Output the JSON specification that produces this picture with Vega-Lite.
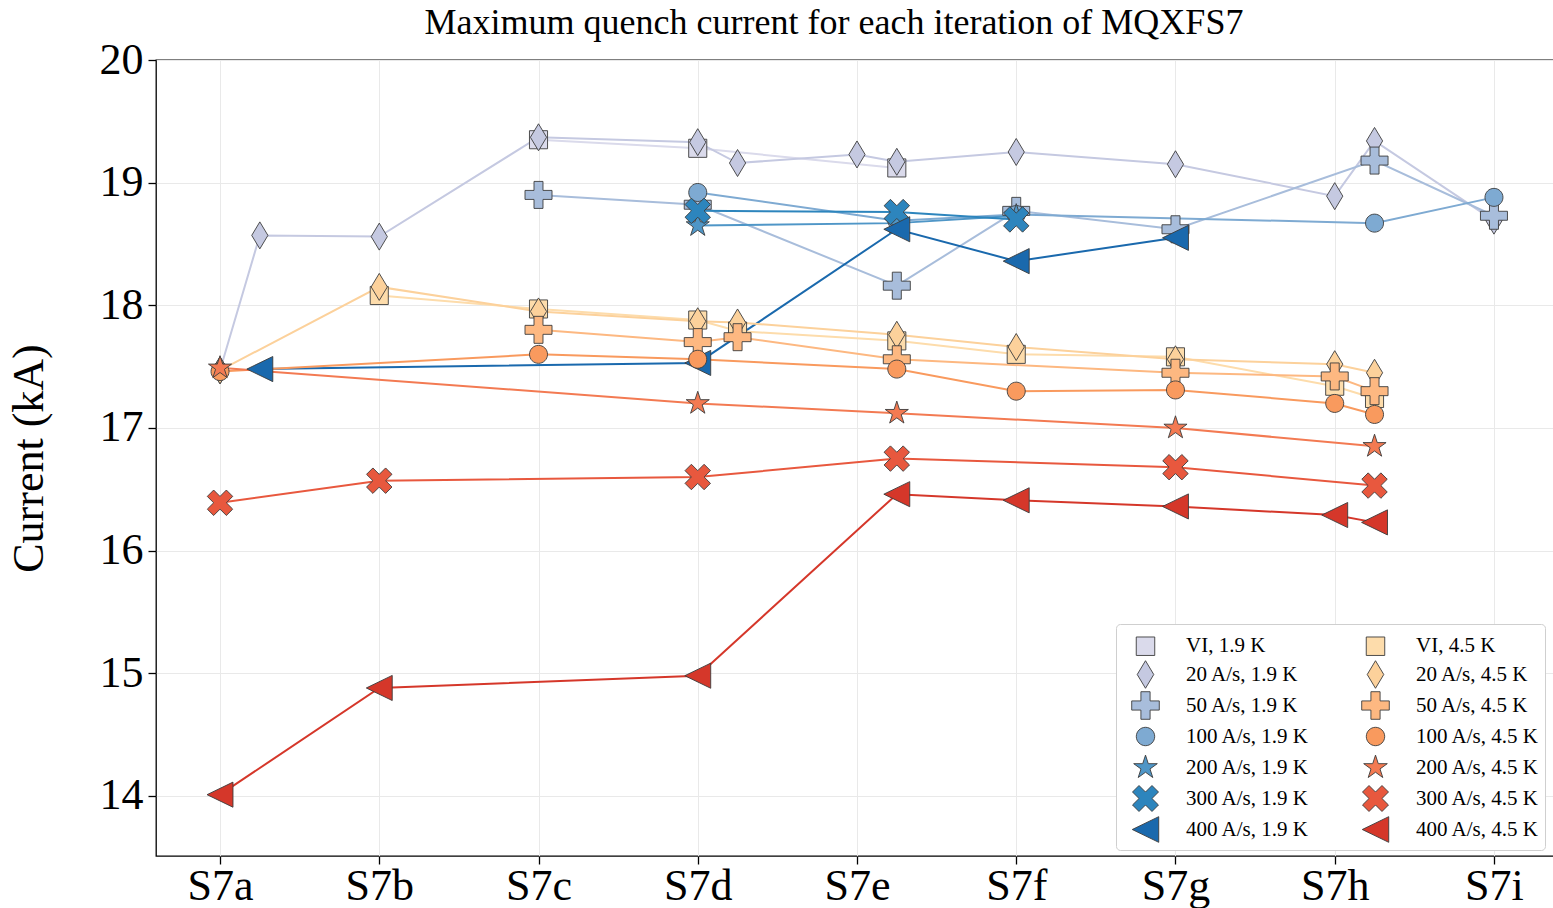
{
  "$schema": "https://vega.github.io/schema/vega-lite/v6.json",
  "width": 1398,
  "height": 796,
  "autosize": "none",
  "padding": {"left": 156, "top": 60, "right": 0, "bottom": 52},
  "background": "white",
  "title": {
    "text": "Maximum quench current for each iteration of MQXFS7",
    "font": "Liberation Serif",
    "fontSize": 36,
    "fontWeight": "normal",
    "color": "black",
    "anchor": "middle",
    "dx": -21,
    "offset": -4
  },
  "config": {
    "view": {"stroke": "black", "strokeWidth": 1.3},
    "axis": {
      "labelFont": "Liberation Serif",
      "labelFontSize": 44,
      "labelColor": "black",
      "titleFont": "Liberation Serif",
      "titleFontSize": 44,
      "titleFontWeight": "normal",
      "titleColor": "black",
      "tickColor": "black",
      "tickSize": 8,
      "tickWidth": 1.3,
      "domain": false,
      "grid": true,
      "gridColor": "#e9e9e9",
      "gridWidth": 1,
      "labelFlush": false,
      "labelOverlap": false,
      "labelPadding": 5
    },
    "legend": {
      "symbolSize": 760,
      "symbolOffset": 10,
      "symbolStrokeColor": "#3c3c3c",
      "symbolStrokeWidth": 0.9,
      "symbolOpacity": 1,
      "labelFont": "Liberation Serif",
      "labelFontSize": 21,
      "labelColor": "black",
      "labelOffset": 26,
      "labelLimit": 400,
      "rowPadding": -2.5,
      "columnPadding": 41,
      "gridAlign": "all",
      "padding": 5,
      "fillColor": "white",
      "strokeColor": "#cfcfcf",
      "cornerRadius": 4
    }
  },
  "data": {
    "values": [
      {"series": "VI, 1.9 K", "pos": 2, "current": 19.35},
      {"series": "VI, 1.9 K", "pos": 3, "current": 19.28},
      {"series": "VI, 1.9 K", "pos": 4.25, "current": 19.12},

      {"series": "20 A/s, 1.9 K", "pos": 0, "current": 17.47},
      {"series": "20 A/s, 1.9 K", "pos": 0.25, "current": 18.57},
      {"series": "20 A/s, 1.9 K", "pos": 1, "current": 18.56},
      {"series": "20 A/s, 1.9 K", "pos": 2, "current": 19.37},
      {"series": "20 A/s, 1.9 K", "pos": 3, "current": 19.33},
      {"series": "20 A/s, 1.9 K", "pos": 3.25, "current": 19.16},
      {"series": "20 A/s, 1.9 K", "pos": 4, "current": 19.23},
      {"series": "20 A/s, 1.9 K", "pos": 4.25, "current": 19.17},
      {"series": "20 A/s, 1.9 K", "pos": 5, "current": 19.25},
      {"series": "20 A/s, 1.9 K", "pos": 6, "current": 19.15},
      {"series": "20 A/s, 1.9 K", "pos": 7, "current": 18.89},
      {"series": "20 A/s, 1.9 K", "pos": 7.25, "current": 19.34},
      {"series": "20 A/s, 1.9 K", "pos": 8, "current": 18.69},

      {"series": "50 A/s, 1.9 K", "pos": 2, "current": 18.9},
      {"series": "50 A/s, 1.9 K", "pos": 3, "current": 18.82},
      {"series": "50 A/s, 1.9 K", "pos": 4.25, "current": 18.16},
      {"series": "50 A/s, 1.9 K", "pos": 5, "current": 18.77},
      {"series": "50 A/s, 1.9 K", "pos": 6, "current": 18.62},
      {"series": "50 A/s, 1.9 K", "pos": 7.25, "current": 19.18},
      {"series": "50 A/s, 1.9 K", "pos": 8, "current": 18.73},

      {"series": "100 A/s, 1.9 K", "pos": 3, "current": 18.92},
      {"series": "100 A/s, 1.9 K", "pos": 4.25, "current": 18.69},
      {"series": "100 A/s, 1.9 K", "pos": 5, "current": 18.74},
      {"series": "100 A/s, 1.9 K", "pos": 7.25, "current": 18.67},
      {"series": "100 A/s, 1.9 K", "pos": 8, "current": 18.88},

      {"series": "200 A/s, 1.9 K", "pos": 3, "current": 18.65},
      {"series": "200 A/s, 1.9 K", "pos": 4.25, "current": 18.67},
      {"series": "200 A/s, 1.9 K", "pos": 5, "current": 18.73},

      {"series": "300 A/s, 1.9 K", "pos": 3, "current": 18.77},
      {"series": "300 A/s, 1.9 K", "pos": 4.25, "current": 18.76},
      {"series": "300 A/s, 1.9 K", "pos": 5, "current": 18.7},

      {"series": "400 A/s, 1.9 K", "pos": 0.25, "current": 17.48},
      {"series": "400 A/s, 1.9 K", "pos": 3, "current": 17.53},
      {"series": "400 A/s, 1.9 K", "pos": 4.25, "current": 18.62},
      {"series": "400 A/s, 1.9 K", "pos": 5, "current": 18.36},
      {"series": "400 A/s, 1.9 K", "pos": 6, "current": 18.55},

      {"series": "VI, 4.5 K", "pos": 1, "current": 18.08},
      {"series": "VI, 4.5 K", "pos": 2, "current": 17.97},
      {"series": "VI, 4.5 K", "pos": 3, "current": 17.88},
      {"series": "VI, 4.5 K", "pos": 3.25, "current": 17.79},
      {"series": "VI, 4.5 K", "pos": 4.25, "current": 17.71},
      {"series": "VI, 4.5 K", "pos": 5, "current": 17.6},
      {"series": "VI, 4.5 K", "pos": 6, "current": 17.58},
      {"series": "VI, 4.5 K", "pos": 7, "current": 17.34},
      {"series": "VI, 4.5 K", "pos": 7.25, "current": 17.24},

      {"series": "20 A/s, 4.5 K", "pos": 0, "current": 17.47},
      {"series": "20 A/s, 4.5 K", "pos": 1, "current": 18.15},
      {"series": "20 A/s, 4.5 K", "pos": 2, "current": 17.95},
      {"series": "20 A/s, 4.5 K", "pos": 3, "current": 17.87},
      {"series": "20 A/s, 4.5 K", "pos": 3.25, "current": 17.86},
      {"series": "20 A/s, 4.5 K", "pos": 4.25, "current": 17.76},
      {"series": "20 A/s, 4.5 K", "pos": 5, "current": 17.66},
      {"series": "20 A/s, 4.5 K", "pos": 6, "current": 17.56},
      {"series": "20 A/s, 4.5 K", "pos": 7, "current": 17.52},
      {"series": "20 A/s, 4.5 K", "pos": 7.25, "current": 17.45},

      {"series": "50 A/s, 4.5 K", "pos": 2, "current": 17.8},
      {"series": "50 A/s, 4.5 K", "pos": 3, "current": 17.7},
      {"series": "50 A/s, 4.5 K", "pos": 3.25, "current": 17.74},
      {"series": "50 A/s, 4.5 K", "pos": 4.25, "current": 17.56},
      {"series": "50 A/s, 4.5 K", "pos": 6, "current": 17.45},
      {"series": "50 A/s, 4.5 K", "pos": 7, "current": 17.42},
      {"series": "50 A/s, 4.5 K", "pos": 7.25, "current": 17.3},

      {"series": "100 A/s, 4.5 K", "pos": 0, "current": 17.46},
      {"series": "100 A/s, 4.5 K", "pos": 2, "current": 17.6},
      {"series": "100 A/s, 4.5 K", "pos": 3, "current": 17.56},
      {"series": "100 A/s, 4.5 K", "pos": 4.25, "current": 17.48},
      {"series": "100 A/s, 4.5 K", "pos": 5, "current": 17.3},
      {"series": "100 A/s, 4.5 K", "pos": 6, "current": 17.31},
      {"series": "100 A/s, 4.5 K", "pos": 7, "current": 17.2},
      {"series": "100 A/s, 4.5 K", "pos": 7.25, "current": 17.11},

      {"series": "200 A/s, 4.5 K", "pos": 0, "current": 17.49},
      {"series": "200 A/s, 4.5 K", "pos": 3, "current": 17.2},
      {"series": "200 A/s, 4.5 K", "pos": 4.25, "current": 17.12},
      {"series": "200 A/s, 4.5 K", "pos": 6, "current": 17.0},
      {"series": "200 A/s, 4.5 K", "pos": 7.25, "current": 16.85},

      {"series": "300 A/s, 4.5 K", "pos": 0, "current": 16.39},
      {"series": "300 A/s, 4.5 K", "pos": 1, "current": 16.57},
      {"series": "300 A/s, 4.5 K", "pos": 3, "current": 16.6},
      {"series": "300 A/s, 4.5 K", "pos": 4.25, "current": 16.75},
      {"series": "300 A/s, 4.5 K", "pos": 6, "current": 16.68},
      {"series": "300 A/s, 4.5 K", "pos": 7.25, "current": 16.53},

      {"series": "400 A/s, 4.5 K", "pos": 0, "current": 14.01},
      {"series": "400 A/s, 4.5 K", "pos": 1, "current": 14.88},
      {"series": "400 A/s, 4.5 K", "pos": 3, "current": 14.98},
      {"series": "400 A/s, 4.5 K", "pos": 4.25, "current": 16.46},
      {"series": "400 A/s, 4.5 K", "pos": 5, "current": 16.41},
      {"series": "400 A/s, 4.5 K", "pos": 6, "current": 16.36},
      {"series": "400 A/s, 4.5 K", "pos": 7, "current": 16.29},
      {"series": "400 A/s, 4.5 K", "pos": 7.25, "current": 16.23}
    ]
  },
  "encoding": {
    "x": {
      "field": "pos",
      "type": "quantitative",
      "scale": {"domain": [-0.402, 8.377], "nice": false, "zero": false},
      "axis": {
        "title": null,
        "values": [0, 1, 2, 3, 4, 5, 6, 7, 8],
        "labelPadding": 0,
        "labelExpr": "['S7a','S7b','S7c','S7d','S7e','S7f','S7g','S7h','S7i'][round(datum.value)]"
      }
    },
    "y": {
      "field": "current",
      "type": "quantitative",
      "scale": {"domain": [13.51, 20], "nice": false, "zero": false},
      "axis": {
        "title": "Current (kA)",
        "values": [14, 15, 16, 17, 18, 19, 20],
        "titlePadding": 48
      }
    }
  },
  "layer": [
    {
      "mark": {"type": "line", "strokeWidth": 2},
      "encoding": {
        "color": {
          "field": "series",
          "type": "nominal",
          "legend": null,
          "scale": {
            "domain": ["VI, 1.9 K", "20 A/s, 1.9 K", "50 A/s, 1.9 K", "100 A/s, 1.9 K", "200 A/s, 1.9 K", "300 A/s, 1.9 K", "400 A/s, 1.9 K", "VI, 4.5 K", "20 A/s, 4.5 K", "50 A/s, 4.5 K", "100 A/s, 4.5 K", "200 A/s, 4.5 K", "300 A/s, 4.5 K", "400 A/s, 4.5 K"],
            "range": ["#dadaeb", "#c5c9e1", "#a8bddb", "#7eaad2", "#4f96c7", "#2d85bd", "#1a69ad", "#fddcab", "#fcd19b", "#fdb881", "#f99a5e", "#f37a52", "#e8583e", "#d5372a"]
          }
        },
        "detail": {"field": "series"}
      }
    },
    {
      "mark": {"type": "point", "filled": true, "opacity": 1, "size": 729, "stroke": "#3c3c3c", "strokeWidth": 0.9},
      "encoding": {
        "color": {
          "field": "series",
          "type": "nominal",
          "legend": {
            "title": null,
            "orient": "none",
            "legendX": 960,
            "legendY": 564,
            "columns": 2,
            "encode": {"symbols": {"update": {"stroke": {"value": "#3c3c3c"}, "strokeWidth": {"value": 0.9}}}}
          }
        },
        "shape": {
          "field": "series",
          "type": "nominal",
          "legend": {"title": null, "orient": "none", "legendX": 960, "legendY": 564, "columns": 2},
          "scale": {
            "domain": ["VI, 1.9 K", "20 A/s, 1.9 K", "50 A/s, 1.9 K", "100 A/s, 1.9 K", "200 A/s, 1.9 K", "300 A/s, 1.9 K", "400 A/s, 1.9 K", "VI, 4.5 K", "20 A/s, 4.5 K", "50 A/s, 4.5 K", "100 A/s, 4.5 K", "200 A/s, 4.5 K", "300 A/s, 4.5 K", "400 A/s, 4.5 K"],
            "range": [
              "M-0.67,-0.67H0.67V0.67H-0.67Z",
              "M0,-1L0.6,0L0,1L-0.6,0Z",
              "M-0.333,-1H0.333V-0.333H1V0.333H0.333V1H-0.333V0.333H-1V-0.333H-0.333Z",
              "M0.667,0C0.667,0.368,0.368,0.667,0,0.667C-0.368,0.667,-0.667,0.368,-0.667,0C-0.667,-0.368,-0.368,-0.667,0,-0.667C0.368,-0.667,0.667,-0.368,0.667,0Z",
              "M0,-0.9L0.202,-0.278L0.856,-0.278L0.327,0.106L0.529,0.728L0,0.344L-0.529,0.728L-0.327,0.106L-0.856,-0.278L-0.202,-0.278Z",
              "M0.471,-0.943L0.943,-0.471L0.471,0L0.943,0.471L0.471,0.943L0,0.471L-0.471,0.943L-0.943,0.471L-0.471,0L-0.943,-0.471L-0.471,-0.943L0,-0.471Z",
              "M-0.96,0L0.96,-0.93L0.96,0.93Z",
              "M-0.67,-0.67H0.67V0.67H-0.67Z",
              "M0,-1L0.6,0L0,1L-0.6,0Z",
              "M-0.333,-1H0.333V-0.333H1V0.333H0.333V1H-0.333V0.333H-1V-0.333H-0.333Z",
              "M0.667,0C0.667,0.368,0.368,0.667,0,0.667C-0.368,0.667,-0.667,0.368,-0.667,0C-0.667,-0.368,-0.368,-0.667,0,-0.667C0.368,-0.667,0.667,-0.368,0.667,0Z",
              "M0,-0.9L0.202,-0.278L0.856,-0.278L0.327,0.106L0.529,0.728L0,0.344L-0.529,0.728L-0.327,0.106L-0.856,-0.278L-0.202,-0.278Z",
              "M0.471,-0.943L0.943,-0.471L0.471,0L0.943,0.471L0.471,0.943L0,0.471L-0.471,0.943L-0.943,0.471L-0.471,0L-0.943,-0.471L-0.471,-0.943L0,-0.471Z",
              "M-0.96,0L0.96,-0.93L0.96,0.93Z"
            ]
          }
        }
      }
    }
  ],
  "resolve": {"legend": {"color": "independent", "shape": "independent"}}
}
